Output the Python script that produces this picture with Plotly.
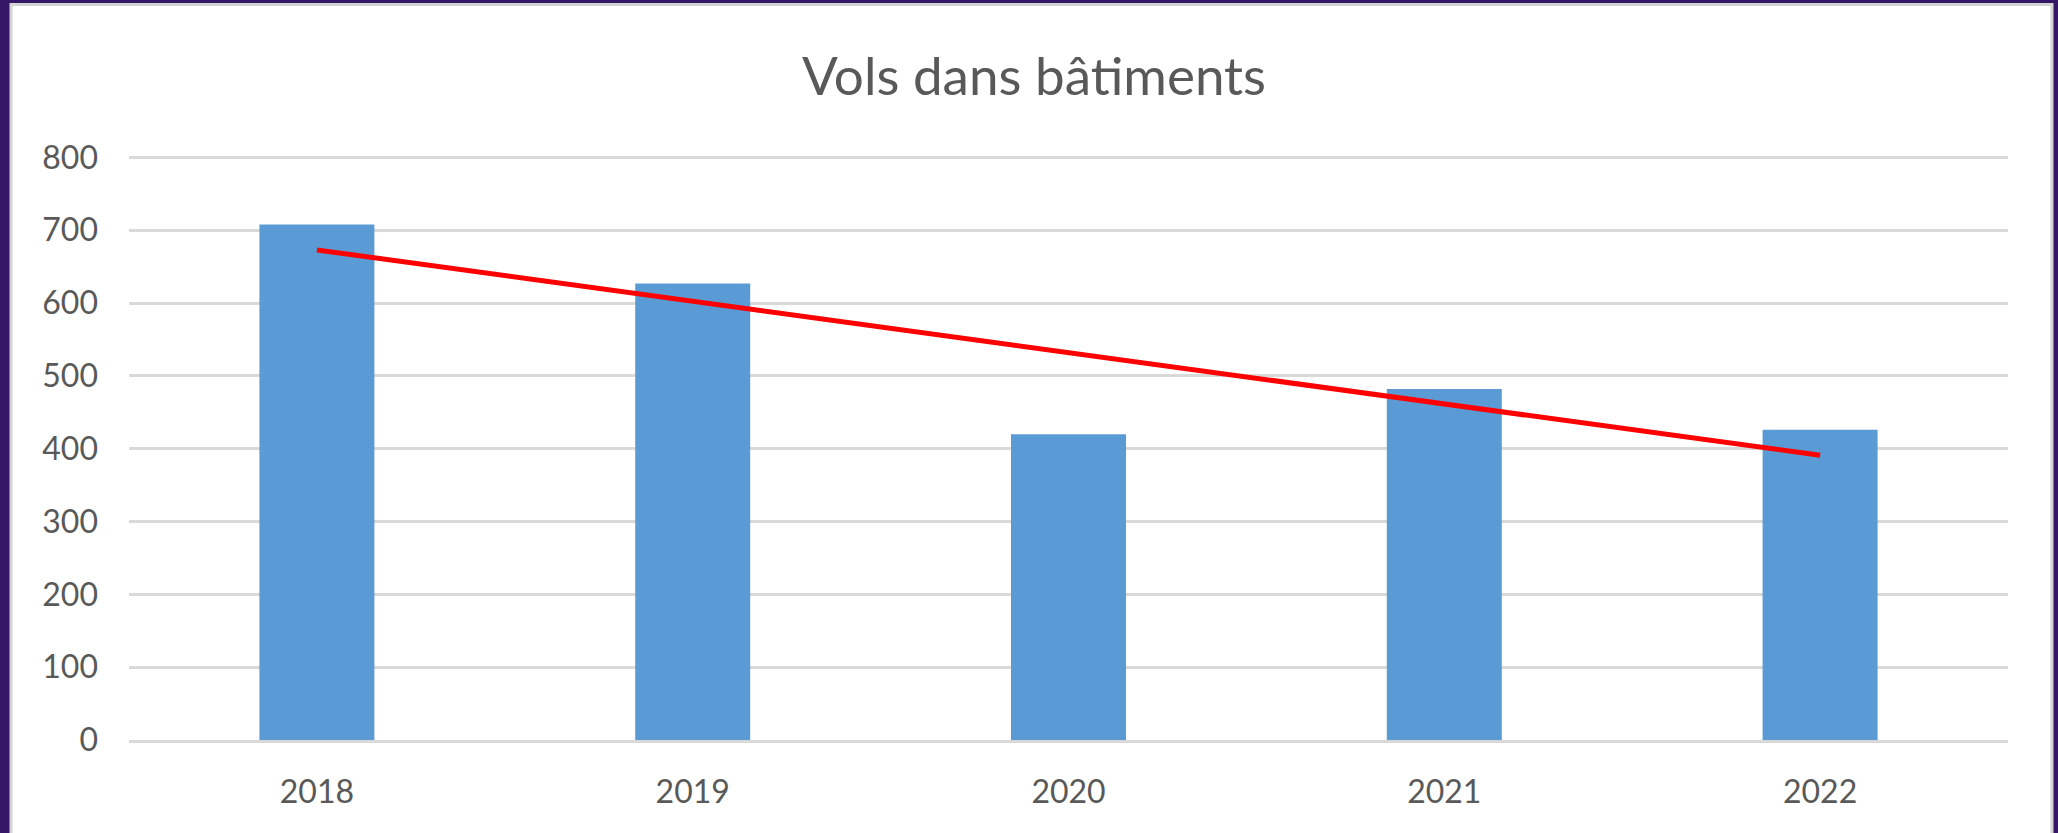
import plotly.graph_objects as go

years = ["2018", "2019", "2020", "2021", "2022"]
vols = [708, 627, 420, 482, 426]

# trend line (start / end)
trend_years = ["2018", "2022"]
trend_vals = [673, 391]

fig = go.Figure()
fig.add_trace(go.Bar(x=years, y=vols, marker=dict(color="#5B9BD5", line=dict(width=0)),
                     showlegend=False))
fig.add_trace(go.Scatter(x=trend_years, y=trend_vals, mode="lines",
                         line=dict(color="#FF0000", width=5), showlegend=False))

# white chart panel on the purple slide background
fig.add_shape(type="rect", xref="paper", yref="paper", layer="below",
              x0=(11 - 129) / 1879, x1=(2052 - 129) / 1879,
              y0=(740 - 840) / 582, y1=(740 - 7) / 582,
              fillcolor="white", line=dict(color="#D4D4D4", width=3))

fig.update_layout(
    width=2058, height=833,
    margin=dict(l=129, r=50, t=156, b=93, autoexpand=False),
    paper_bgcolor="#361766", plot_bgcolor="white",
    font=dict(family="Lato, Noto Sans, sans-serif", color="#595959", size=32),
    bargap=0.694,
    title=dict(text="Vols dans bâtiments", xref="container", yref="container",
               x=1034 / 2058, xanchor="center", y=1 - 76 / 833, yanchor="middle",
               font=dict(size=53, color="#595959")),
)
fig.update_yaxes(range=[0, 802], tickvals=[0, 100, 200, 300, 400, 500, 600, 700, 800],
                 showgrid=True, gridcolor="#D9D9D9", gridwidth=2.5, automargin=False,
                 zeroline=False, showline=False, ticks="", ticklabelstandoff=30,
                 tickfont=dict(size=32, color="#595959"))
fig.update_xaxes(showgrid=False, showline=True, linecolor="#D9D9D9", linewidth=2.5,
                 automargin=False, ticks="", ticklabelstandoff=22,
                 tickfont=dict(size=32, color="#595959"))

fig.write_html("out.html", config={"displayModeBar": False},
               post_script="document.body.style.margin='0';document.body.style.background='#361766';")
